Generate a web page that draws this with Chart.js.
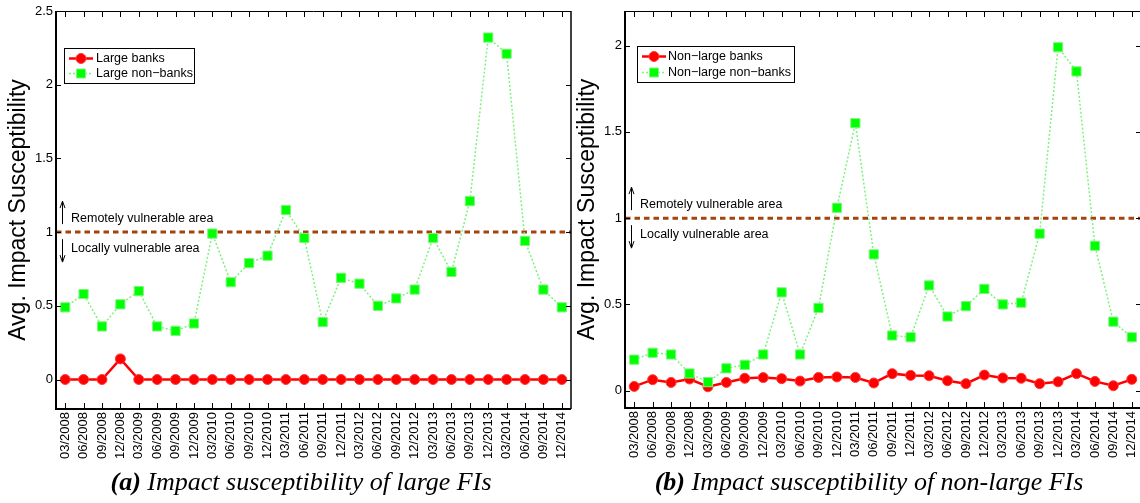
<!DOCTYPE html>
<html>
<head>
<meta charset="utf-8">
<script src="https://cdn.jsdelivr.net/npm/chart.js@4"></script>
<style>
  body { margin: 0; width: 1140px; height: 503px; overflow: hidden; background: #fff; position: relative; }
  canvas { position: absolute; top: 0; }
  .caption { position: absolute; top: 469px; font-family: "Liberation Serif", "Times New Roman", serif;
             font-style: italic; font-size: 26px; line-height: 26px; text-align: center; white-space: nowrap; }
</style>
</head>
<body>
<canvas id="chartA" width="575" height="503" style="left:0px"></canvas>
<canvas id="chartB" width="572" height="503" style="left:569px"></canvas>
<div class="caption" style="left:0px; width:602px"><b>(a)</b> Impact susceptibility of large FIs</div>
<div class="caption" style="left:598px; width:542px"><b>(b)</b> Impact susceptibility of non-large FIs</div>
<script>
// quarters on the x axis
const quarters = ['03/2008', '06/2008', '09/2008', '12/2008', '03/2009', '06/2009', '09/2009', '12/2009',
    '03/2010', '06/2010', '09/2010', '12/2010', '03/2011', '06/2011', '09/2011', '12/2011',
    '03/2012', '06/2012', '09/2012', '12/2012', '03/2013', '06/2013', '09/2013', '12/2013',
    '03/2014', '06/2014', '09/2014', '12/2014'];

// (a) large FIs
const largeBanks = [0, 0, 0, 0.14, 0, 0, 0, 0, 0, 0, 0, 0, 0, 0,
    0, 0, 0, 0, 0, 0, 0, 0, 0, 0, 0, 0, 0, 0];
const largeNonBanks = [0.49, 0.58, 0.36, 0.51, 0.60, 0.36, 0.33, 0.38, 0.99, 0.66, 0.79, 0.84, 1.15, 0.96,
    0.39, 0.69, 0.65, 0.50, 0.55, 0.61, 0.96, 0.73, 1.21, 2.32, 2.21, 0.94, 0.61, 0.49];

// (b) non-large FIs
const nonLargeBanks = [0.025, 0.064, 0.048, 0.068, 0.023, 0.048, 0.072, 0.076, 0.070, 0.056, 0.077, 0.080, 0.077, 0.045,
    0.099, 0.089, 0.087, 0.058, 0.041, 0.091, 0.074, 0.072, 0.041, 0.052, 0.099, 0.054, 0.029, 0.066];
const nonLargeNonBanks = [0.18, 0.22, 0.21, 0.10, 0.05, 0.13, 0.15, 0.21, 0.57, 0.21, 0.48, 1.06, 1.55, 0.79,
    0.32, 0.31, 0.61, 0.43, 0.49, 0.59, 0.50, 0.51, 0.91, 1.99, 1.85, 0.84, 0.40, 0.31];

const ticksA = [0, 0.5, 1, 1.5, 2, 2.5];
const ticksB = [0, 0.5, 1, 1.5, 2];
const threshold = 1;

const sansFont = '"Liberation Sans", Arial, Helvetica, sans-serif';

// MATLAB-like box, inward ticks, threshold line, legend
const matlabBox = {
    id: 'matlabBox',
    beforeDatasetsDraw(chart, args, opts) {
        const ctx = chart.ctx;
        const a = chart.chartArea;
        const py = chart.scales.y.getPixelForValue(threshold);
        ctx.save();
        ctx.strokeStyle = '#a3440e';
        ctx.lineWidth = 3;
        ctx.setLineDash([5.5, 4]);
        ctx.beginPath();
        ctx.moveTo(a.left, py);
        ctx.lineTo(a.right, py);
        ctx.stroke();
        ctx.setLineDash([]);

        // arrows
        const ax = a.left + 6.5;
        ctx.strokeStyle = '#000';
        ctx.fillStyle = '#000';
        ctx.lineWidth = 1;
        ctx.beginPath();
        ctx.moveTo(ax, py - 8);
        ctx.lineTo(ax, py - 30);
        ctx.moveTo(ax - 2.5, py - 24);
        ctx.lineTo(ax, py - 31);
        ctx.lineTo(ax + 2.5, py - 24);
        ctx.moveTo(ax, py + 7);
        ctx.lineTo(ax, py + 29);
        ctx.moveTo(ax - 2.5, py + 23);
        ctx.lineTo(ax, py + 30);
        ctx.lineTo(ax + 2.5, py + 23);
        ctx.stroke();

        ctx.font = '12.5px ' + sansFont;
        ctx.textBaseline = 'middle';
        ctx.textAlign = 'left';
        ctx.fillText('Remotely vulnerable area', a.left + 15, py - 14);
        ctx.fillText('Locally vulnerable area', a.left + 15, py + 16.5);
        ctx.restore();
    },
    afterDraw(chart, args, opts) {
        const ctx = chart.ctx;
        const a = chart.chartArea;
        const xs = chart.scales.x;
        const ys = chart.scales.y;
        ctx.save();
        ctx.strokeStyle = '#000';

        // frame
        ctx.lineWidth = 1;
        ctx.beginPath();
        ctx.moveTo(a.left, a.top + 0.5);
        ctx.lineTo(a.right, a.top + 0.5);
        ctx.stroke();
        ctx.lineWidth = 1.5;
        ctx.beginPath();
        ctx.moveTo(a.right, a.top);
        ctx.lineTo(a.right, a.bottom);
        ctx.stroke();
        ctx.lineWidth = 2;
        ctx.beginPath();
        ctx.moveTo(a.left, a.top);
        ctx.lineTo(a.left, a.bottom);
        ctx.lineTo(a.right, a.bottom);
        ctx.stroke();

        // inward ticks
        ctx.lineWidth = 1;
        ctx.beginPath();
        for (let i = 0; i < xs.ticks.length; i++) {
            const px = Math.round(xs.getPixelForTick(i)) + 0.5;
            ctx.moveTo(px, a.bottom);
            ctx.lineTo(px, a.bottom - 6);
            ctx.moveTo(px, a.top);
            ctx.lineTo(px, a.top + 6);
        }
        ys.ticks.forEach(t => {
            const py = Math.round(ys.getPixelForValue(t.value)) + 0.5;
            ctx.moveTo(a.left, py);
            ctx.lineTo(a.left + 5, py);
            ctx.moveTo(a.right, py);
            ctx.lineTo(a.right - 5, py);
        });
        ctx.stroke();

        // legend
        const lg = opts.legend;
        ctx.fillStyle = '#fff';
        ctx.fillRect(lg.x, lg.y, lg.w, lg.h);
        ctx.lineWidth = 1;
        ctx.strokeRect(lg.x + 0.5, lg.y + 0.5, lg.w, lg.h);
        ctx.font = '12.5px ' + sansFont;
        ctx.textBaseline = 'middle';
        ctx.textAlign = 'left';
        chart.data.datasets.forEach((ds, i) => {
            const cy = lg.y + 10.5 + i * lg.rowGap;
            ctx.strokeStyle = ds.borderColor;
            ctx.lineWidth = ds.borderWidth;
            ctx.setLineDash(ds.borderDash || []);
            ctx.beginPath();
            ctx.moveTo(lg.x + 5, cy);
            ctx.lineTo(lg.x + 29, cy);
            ctx.stroke();
            ctx.setLineDash([]);
            ctx.fillStyle = ds.pointBackgroundColor;
            ctx.strokeStyle = ds.pointBorderColor;
            ctx.lineWidth = 1;
            const mx = lg.x + 17;
            ctx.beginPath();
            if (ds.pointStyle === 'rect') {
                ctx.rect(mx - 4.5, cy - 4.5, 9, 9);
            } else {
                ctx.arc(mx, cy, 5, 0, Math.PI * 2);
            }
            ctx.fill();
            ctx.stroke();
            ctx.fillStyle = '#000';
            ctx.fillText(ds.label, lg.x + lg.textOff, cy);
        });
        ctx.restore();
    }
};

function makeChart(id, names, bankVals, nonBankVals, yMin, yMax, yTicks, xAxisHeight, padRight, legend) {
    const ctx = document.getElementById(id).getContext('2d');
    return new Chart(ctx, {
        type: 'line',
        data: {
            labels: quarters,
            datasets: [{
                label: names[0],
                data: bankVals,
                borderColor: '#ff0000',
                borderWidth: 2.5,
                pointStyle: 'circle',
                pointRadius: 5,
                pointBackgroundColor: '#ff0000',
                pointBorderColor: '#ff3b3b',
                pointBorderWidth: 1,
                tension: 0,
                order: 1
            }, {
                label: names[1],
                data: nonBankVals,
                borderColor: 'rgba(120, 240, 120, 0.95)',
                borderWidth: 1.5,
                borderDash: [2, 2],
                pointStyle: 'rect',
                pointRadius: 6.5,
                pointBackgroundColor: '#00ff00',
                pointBorderColor: '#7cf57c',
                pointBorderWidth: 1,
                tension: 0,
                order: 0
            }]
        },
        options: {
            responsive: false,
            animation: false,
            layout: { autoPadding: false, padding: { top: 11, left: 0, right: padRight, bottom: 0 } },
            plugins: {
                legend: { display: false },
                tooltip: { enabled: false },
                matlabBox: { legend: legend }
            },
            scales: {
                x: {
                    type: 'category',
                    offset: true,
                    grid: { display: false, drawTicks: false },
                    border: { display: false },
                    ticks: {
                        minRotation: 90,
                        maxRotation: 90,
                        autoSkip: false,
                        padding: 3,
                        color: '#000',
                        font: { family: sansFont, size: 13 }
                    },
                    afterFit: s => {
                        s.height = xAxisHeight;
                        s.paddingLeft = 0;
                        s.paddingRight = 0;
                    }
                },
                y: {
                    min: yMin,
                    max: yMax,
                    grid: { display: false, drawTicks: false },
                    border: { display: false },
                    afterBuildTicks: s => { s.ticks = yTicks.map(v => ({ value: v })); },
                    ticks: {
                        padding: 3,
                        color: '#000',
                        font: { family: sansFont, size: 13 },
                        callback: v => String(v)
                    },
                    title: {
                        display: true,
                        text: 'Avg. Impact Susceptibility',
                        color: '#000',
                        font: { family: sansFont, size: 23 },
                        padding: { top: 4.7, bottom: 0 }
                    },
                    afterFit: s => {
                        s.width = 56;
                        s.paddingTop = 0;
                        s.paddingBottom = 0;
                    }
                }
            }
        },
        plugins: [matlabBox]
    });
}

makeChart('chartA', ['Large banks', 'Large non\u2212banks'], largeBanks, largeNonBanks,
    -0.2, 2.5, ticksA, 94, 4, { x: 64, y: 48, w: 130, h: 35, rowGap: 15, textOff: 32 });
makeChart('chartB', ['Non\u2212large banks', 'Non\u2212large non\u2212banks'], nonLargeBanks, nonLargeNonBanks,
    -0.1, 2.2, ticksB, 95, 0, { x: 68, y: 46, w: 157, h: 36, rowGap: 16, textOff: 31 });
</script>
</body>
</html>
